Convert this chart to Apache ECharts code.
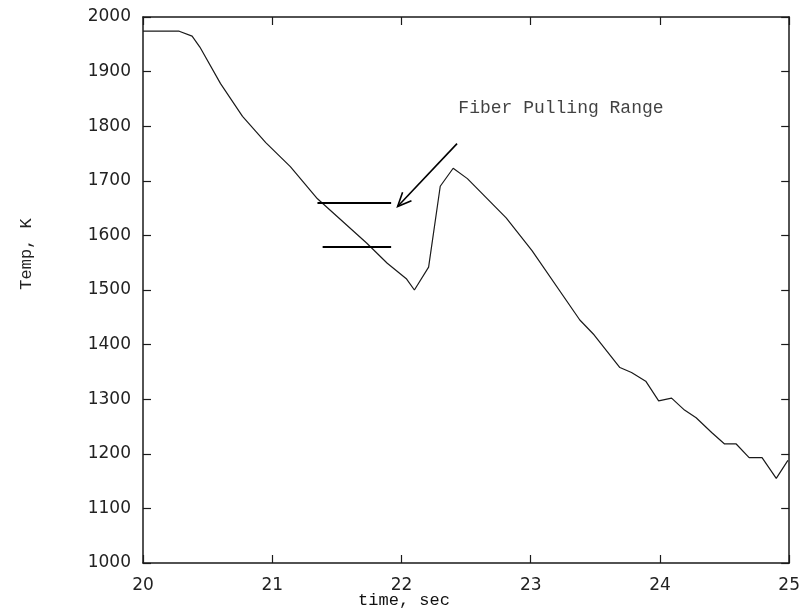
<!DOCTYPE html>
<html>
<head>
<meta charset="utf-8">
<script src="https://cdn.jsdelivr.net/npm/echarts@6/dist/echarts.min.js"></script>
<style>
html,body{margin:0;padding:0;background:#fff;}
#main{width:803px;height:610px;}
</style>
</head>
<body>
<div id="main"></div>
<script>
// time (sec) and temperature (K)
var timeSec = [20.0, 20.28, 20.38, 20.44, 20.60, 20.77, 20.95, 21.14, 21.35, 21.73, 21.89, 22.04, 22.10, 22.21, 22.30, 22.40, 22.51, 22.81, 23.01, 23.38, 23.49, 23.69, 23.78, 23.89, 23.99, 24.09, 24.19, 24.28, 24.40, 24.50, 24.59, 24.69, 24.79, 24.90, 24.99];
var tempK = [1974, 1974, 1965, 1945, 1878, 1818, 1770, 1726, 1667, 1586, 1549, 1520, 1500, 1542, 1690, 1723, 1704, 1632, 1572, 1445, 1418, 1358, 1349, 1333, 1297, 1302, 1280, 1266, 1239, 1218, 1218, 1193, 1193, 1155, 1188];

// fiber pulling range markers: [xStart, xEnd, temp]
var rangeLines = [[21.35, 21.92, 1660], [21.39, 21.92, 1580]];
// annotation arrow: [xFrom, yFrom, xTo, yTo]
var arrowSeg = [22.43, 1768, 21.97, 1653];
var annotText = 'Fiber Pulling Range';
var annotPos = [22.44, 1832];

var xTitle = 'time, sec';
var yTitle = 'Temp, K';

var xMin = 20, xMax = 25, xStep = 1;
var yMin = 1000, yMax = 2000, yStep = 100;

var chart = echarts.init(document.getElementById('main'), null, {renderer: 'canvas'});

var lineData = timeSec.map(function (t, i) { return [t, tempK[i]]; });
var ink = '#1a1a1a';
var plainNum = function (v) { return String(v); };

function axisCommon(extra) {
  var o = {
    axisLine: {show: true, onZero: false, lineStyle: {color: ink, width: 1.5}},
    axisTick: {show: true, inside: true, length: 8, lineStyle: {color: ink, width: 1.2}},
    splitLine: {show: false}
  };
  for (var k in extra) o[k] = extra[k];
  return o;
}

var option = {
  animation: false,
  backgroundColor: '#fff',
  grid: {left: 143, right: 13, top: 17, bottom: 47, containLabel: false},
  xAxis: [
    axisCommon({type: 'value', min: xMin, max: xMax, interval: xStep, position: 'bottom',
      axisLabel: {show: true, margin: 14, color: '#222', fontFamily: 'DejaVu Sans', fontSize: 17, formatter: plainNum}}),
    axisCommon({type: 'value', min: xMin, max: xMax, interval: xStep, position: 'top',
      axisLabel: {show: false}})
  ],
  yAxis: [
    axisCommon({type: 'value', min: yMin, max: yMax, interval: yStep, position: 'left',
      axisLabel: {show: true, margin: 12, color: '#222', fontFamily: 'DejaVu Sans', fontSize: 17, formatter: plainNum}}),
    axisCommon({type: 'value', min: yMin, max: yMax, interval: yStep, position: 'right',
      axisLabel: {show: false}})
  ],
  graphic: [
    {type: 'text', x: 404, y: 600, style: {text: xTitle, fontFamily: 'Liberation Mono', fontSize: 17, fill: '#111', textAlign: 'center', textVerticalAlign: 'middle'}},
    {type: 'text', x: 26, y: 254, rotation: Math.PI / 2, style: {text: yTitle, fontFamily: 'Liberation Mono', fontSize: 17, fill: '#222', textAlign: 'center', textVerticalAlign: 'middle'}}
  ],
  series: [
    {
      type: 'line',
      data: lineData,
      symbol: 'none',
      lineStyle: {color: ink, width: 1.2},
      z: 3,
      markLine: {
        silent: true,
        symbol: ['none', 'none'],
        label: {show: false},
        lineStyle: {color: '#000', width: 2, type: 'solid'},
        data: rangeLines.map(function (r) { return [{coord: [r[0], r[2]]}, {coord: [r[1], r[2]]}]; })
      }
    },
    {
      type: 'custom',
      data: [arrowSeg],
      renderItem: function (params, api) {
        var p0 = api.coord([api.value(0), api.value(1)]);
        var p1 = api.coord([api.value(2), api.value(3)]);
        var dx = p0[0] - p1[0], dy = p0[1] - p1[1];
        var len = Math.sqrt(dx * dx + dy * dy);
        var ux = dx / len, uy = dy / len;
        var wl = 15, ang = 24 * Math.PI / 180;
        function wing(s) {
          var c = Math.cos(s * ang), sn = Math.sin(s * ang);
          return [p1[0] + wl * (ux * c - uy * sn), p1[1] + wl * (ux * sn + uy * c)];
        }
        var w1 = wing(1), w2 = wing(-1);
        var st = {stroke: '#000', lineWidth: 1.6};
        return {
          type: 'group',
          children: [
            {type: 'line', shape: {x1: p0[0], y1: p0[1], x2: p1[0], y2: p1[1]}, style: st},
            {type: 'polyline', shape: {points: [w1, p1, w2]}, style: {stroke: '#000', lineWidth: 1.6, fill: null}}
          ]
        };
      },
      z: 4
    },
    {
      type: 'scatter',
      data: [annotPos],
      symbolSize: 0,
      silent: true,
      label: {show: true, position: 'right', distance: 0, formatter: annotText,
        fontFamily: 'Liberation Mono', fontSize: 18, color: '#111'}
    }
  ]
};
chart.setOption(option);
</script>
</body>
</html>
